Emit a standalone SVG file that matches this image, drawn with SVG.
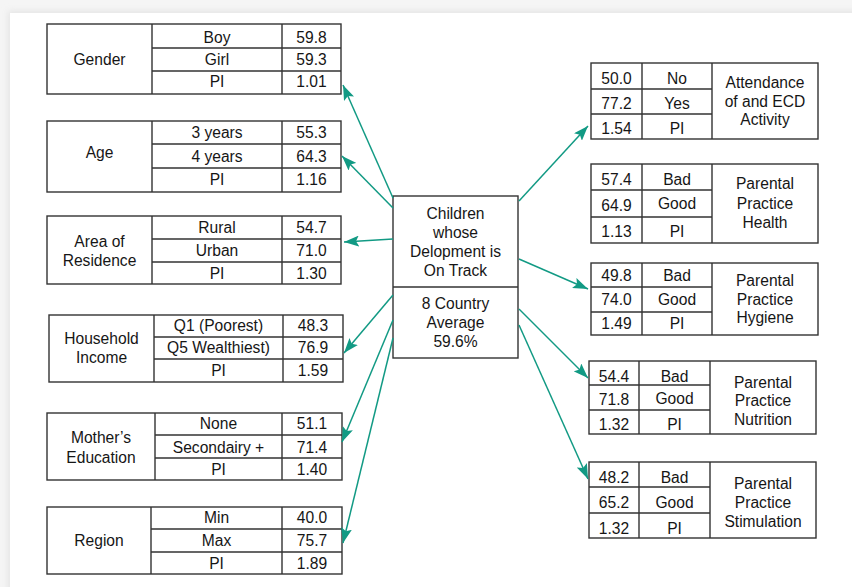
<svg xmlns="http://www.w3.org/2000/svg" width="852" height="587" viewBox="0 0 852 587">
  <defs>
    <style>
      .box { fill: #fff; stroke: #333; stroke-width: 1.4; }
      .rule { stroke: #333; stroke-width: 1.4; fill: none; }
      .t { font-family: "Liberation Sans", Arial, sans-serif; font-size: 15.6px; fill: #161616; text-anchor: middle; }
      .link { stroke: #129a84; stroke-width: 1.5; fill: none; marker-end: url(#head); }
    </style>
    <marker id="head" markerUnits="userSpaceOnUse" markerWidth="15" markerHeight="11" refX="15" refY="5.5" orient="auto">
      <path d="M0,0 L15,5.5 L0,11 L3,5.5 z" fill="#129a84"/>
    </marker>
    <filter id="soft" x="-5%" y="-5%" width="110%" height="110%">
      <feGaussianBlur stdDeviation="3"/>
    </filter>
  </defs>

  <!-- page and card -->
  <rect width="852" height="587" fill="#f5f5f5"/>
  <rect x="8" y="11" width="860" height="600" fill="#e4e4e4" filter="url(#soft)"/>
  <rect x="10" y="13" width="860" height="600" fill="#fff"/>

  <!-- left tables -->
  <g id="gender">
    <rect class="box" x="47" y="24" width="294" height="70"/>
    <path class="rule" d="M152,24V94M282,24V94M152,48H341M152,71H341"/>
    <text class="t" x="99.5" y="65">Gender</text>
    <text class="t" x="217" y="43">Boy</text>
    <text class="t" x="217" y="65">Girl</text>
    <text class="t" x="217" y="87">PI</text>
    <text class="t" x="311.5" y="43">59.8</text>
    <text class="t" x="311.5" y="65">59.3</text>
    <text class="t" x="311.5" y="87">1.01</text>
  </g>

  <g id="age">
    <rect class="box" x="47" y="121" width="294" height="71"/>
    <path class="rule" d="M152,121V192M282,121V192M152,144H341M152,168H341"/>
    <text class="t" x="99.5" y="158">Age</text>
    <text class="t" x="217" y="138">3 years</text>
    <text class="t" x="217" y="162">4 years</text>
    <text class="t" x="217" y="185">PI</text>
    <text class="t" x="311.5" y="138">55.3</text>
    <text class="t" x="311.5" y="162">64.3</text>
    <text class="t" x="311.5" y="185">1.16</text>
  </g>

  <g id="area">
    <rect class="box" x="47" y="216" width="294" height="68"/>
    <path class="rule" d="M152,216V284M282,216V284M152,239H341M152,262H341"/>
    <text class="t" x="99.5" y="247">Area of</text>
    <text class="t" x="99.5" y="266">Residence</text>
    <text class="t" x="217" y="233">Rural</text>
    <text class="t" x="217" y="256">Urban</text>
    <text class="t" x="217" y="279">PI</text>
    <text class="t" x="311.5" y="233">54.7</text>
    <text class="t" x="311.5" y="256">71.0</text>
    <text class="t" x="311.5" y="279">1.30</text>
  </g>

  <g id="income">
    <rect class="box" x="49" y="315" width="294" height="67"/>
    <path class="rule" d="M154,315V382M283,315V382M154,337H343M154,359H343"/>
    <text class="t" x="101.5" y="344">Household</text>
    <text class="t" x="101.5" y="363">Income</text>
    <text class="t" x="218.5" y="331">Q1 (Poorest)</text>
    <text class="t" x="218.5" y="353">Q5 Wealthiest)</text>
    <text class="t" x="218.5" y="376">PI</text>
    <text class="t" x="313" y="331">48.3</text>
    <text class="t" x="313" y="353">76.9</text>
    <text class="t" x="313" y="376">1.59</text>
  </g>

  <g id="education">
    <rect class="box" x="47" y="413" width="295" height="67"/>
    <path class="rule" d="M155,413V480M282,413V480M155,435H342M155,458H342"/>
    <text class="t" x="101" y="443">Mother’s</text>
    <text class="t" x="101" y="463">Education</text>
    <text class="t" x="218.5" y="429">None</text>
    <text class="t" x="218.5" y="453">Secondairy +</text>
    <text class="t" x="218.5" y="475">PI</text>
    <text class="t" x="312" y="429">51.1</text>
    <text class="t" x="312" y="453">71.4</text>
    <text class="t" x="312" y="475">1.40</text>
  </g>

  <g id="region">
    <rect class="box" x="47" y="507" width="295" height="67"/>
    <path class="rule" d="M151,507V574M282,507V574M151,529H342M151,552H342"/>
    <text class="t" x="99" y="546">Region</text>
    <text class="t" x="216.5" y="523">Min</text>
    <text class="t" x="216.5" y="546">Max</text>
    <text class="t" x="216.5" y="569">PI</text>
    <text class="t" x="312" y="523">40.0</text>
    <text class="t" x="312" y="546">75.7</text>
    <text class="t" x="312" y="569">1.89</text>
  </g>

  <!-- central node -->
  <g id="center">
    <rect class="box" x="393" y="196" width="125" height="162"/>
    <path class="rule" d="M393,287H518"/>
    <text class="t" x="455.5" y="219">Children</text>
    <text class="t" x="455.5" y="238">whose</text>
    <text class="t" x="455.5" y="257">Delopment is</text>
    <text class="t" x="455.5" y="276">On Track</text>
    <text class="t" x="455.5" y="309">8 Country</text>
    <text class="t" x="455.5" y="328">Average</text>
    <text class="t" x="455.5" y="347">59.6%</text>
  </g>

  <!-- right tables -->
  <g id="attendance">
    <rect class="box" x="591" y="63" width="227" height="76"/>
    <path class="rule" d="M642,63V139M712,63V139M591,89H712M591,114H712"/>
    <text class="t" x="616.5" y="84">50.0</text>
    <text class="t" x="616.5" y="109">77.2</text>
    <text class="t" x="616.5" y="134">1.54</text>
    <text class="t" x="677" y="84">No</text>
    <text class="t" x="677" y="109">Yes</text>
    <text class="t" x="677" y="134">PI</text>
    <text class="t" x="765" y="88">Attendance</text>
    <text class="t" x="765" y="107">of and ECD</text>
    <text class="t" x="765" y="125">Activity</text>
  </g>

  <g id="health">
    <rect class="box" x="591" y="164" width="227" height="79"/>
    <path class="rule" d="M642,164V243M712,164V243M591,190H712M591,217H712"/>
    <text class="t" x="616.5" y="185">57.4</text>
    <text class="t" x="616.5" y="211">64.9</text>
    <text class="t" x="616.5" y="237">1.13</text>
    <text class="t" x="677" y="185">Bad</text>
    <text class="t" x="677" y="209">Good</text>
    <text class="t" x="677" y="237">PI</text>
    <text class="t" x="765" y="189">Parental</text>
    <text class="t" x="765" y="209">Practice</text>
    <text class="t" x="765" y="228">Health</text>
  </g>

  <g id="hygiene">
    <rect class="box" x="591" y="263" width="227" height="72"/>
    <path class="rule" d="M642,263V335M712,263V335M591,287H712M591,312H712"/>
    <text class="t" x="616.5" y="281">49.8</text>
    <text class="t" x="616.5" y="305">74.0</text>
    <text class="t" x="616.5" y="329">1.49</text>
    <text class="t" x="677" y="281">Bad</text>
    <text class="t" x="677" y="305">Good</text>
    <text class="t" x="677" y="329">PI</text>
    <text class="t" x="765" y="286">Parental</text>
    <text class="t" x="765" y="305">Practice</text>
    <text class="t" x="765" y="323">Hygiene</text>
  </g>

  <g id="nutrition">
    <rect class="box" x="589" y="361" width="227" height="73"/>
    <path class="rule" d="M639,361V434M710,361V434M589,385H710M589,410H710"/>
    <text class="t" x="614" y="382">54.4</text>
    <text class="t" x="614" y="405">71.8</text>
    <text class="t" x="614" y="430">1.32</text>
    <text class="t" x="674.5" y="382">Bad</text>
    <text class="t" x="674.5" y="404">Good</text>
    <text class="t" x="674.5" y="430">PI</text>
    <text class="t" x="763" y="388">Parental</text>
    <text class="t" x="763" y="406">Practice</text>
    <text class="t" x="763" y="425">Nutrition</text>
  </g>

  <g id="stimulation">
    <rect class="box" x="589" y="462" width="227" height="76"/>
    <path class="rule" d="M639,462V538M710,462V538M589,487H710M589,513H710"/>
    <text class="t" x="614" y="483">48.2</text>
    <text class="t" x="614" y="508">65.2</text>
    <text class="t" x="614" y="534">1.32</text>
    <text class="t" x="674.5" y="483">Bad</text>
    <text class="t" x="674.5" y="508">Good</text>
    <text class="t" x="674.5" y="534">PI</text>
    <text class="t" x="763" y="489">Parental</text>
    <text class="t" x="763" y="508">Practice</text>
    <text class="t" x="763" y="527">Stimulation</text>
  </g>

  <!-- connectors from the central node -->
  <g id="connectors">
    <line class="link" x1="393" y1="198" x2="343" y2="85"/>
    <line class="link" x1="393" y1="208" x2="342" y2="156"/>
    <line class="link" x1="393" y1="239" x2="344" y2="242"/>
    <line class="link" x1="393" y1="295" x2="344" y2="353"/>
    <line class="link" x1="393" y1="320" x2="342" y2="442"/>
    <line class="link" x1="393" y1="338" x2="343" y2="543"/>
    <line class="link" x1="519" y1="201" x2="588" y2="126"/>
    <line class="link" x1="519" y1="259" x2="588" y2="289"/>
    <line class="link" x1="519" y1="309" x2="588" y2="378"/>
    <line class="link" x1="519" y1="325" x2="588" y2="479"/>
  </g>
</svg>
